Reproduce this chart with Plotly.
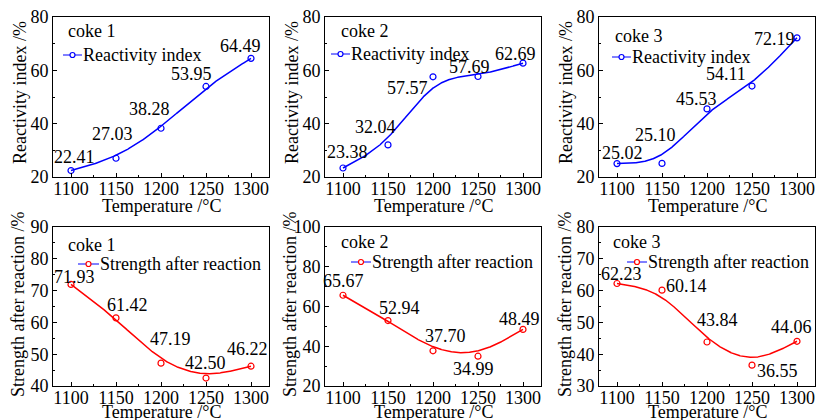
import numpy as np
import plotly.graph_objects as go
from plotly.subplots import make_subplots

# ---- data ----
temperature = [1100, 1150, 1200, 1250, 1300]
coke_names = ["coke 1", "coke 2", "coke 3"]

reactivity_coke1 = [22.41, 27.03, 38.28, 53.95, 64.49]
reactivity_coke2 = [23.38, 32.04, 57.57, 57.69, 62.69]
reactivity_coke3 = [25.02, 25.10, 45.53, 54.11, 72.19]

strength_coke1 = [71.93, 61.42, 47.19, 42.50, 46.22]
strength_coke2 = [65.67, 52.94, 37.70, 34.99, 48.49]
strength_coke3 = [62.23, 60.14, 43.84, 36.55, 44.06]

reactivity_series = [reactivity_coke1, reactivity_coke2, reactivity_coke3]
strength_series = [strength_coke1, strength_coke2, strength_coke3]

# ---- layout / style ----
W, H = 816, 420
FONT = "Liberation Serif"
FS = 18
BLUE = "#0000ff"
RED = "#ff0000"

col_px = [(53, 269), (325, 541), (599, 815)]
row_px = [(17, 177), (227, 386)]
xtitle_px = [206, 412]
ytitle_px = [(20, 292, 566), (18, 290, 565)]
ytitle_mid = [93, 305]
x_range = [1080, 1320]
top_y = dict(range=[20, 80], dtick=20)
bottom_y = [dict(range=[40, 90], dtick=10), dict(range=[20, 100], dtick=20), dict(range=[30, 80], dtick=10)]

# value-label offsets (px, right / down) for each panel
top_offsets = [
    [(3, -14), (-4, -24), (-12, -19), (-15, -12), (-11, -12)],
    [(4, -16), (-13, -18), (-26, 11), (-9, -9), (-8, -9)],
    [(5, -11), (-7, -28), (-11, -10), (-26, -12), (-23, 1)],
]
bottom_offsets = [
    [(3, -7), (11, -13), (9, -24), (-1, -15), (-4, -17)],
    [(0, -14), (11, -13), (12, -15), (-5, 13), (-4, -10)],
    [(4, -10), (24, -4), (10, -22), (25, 6), (-6, -14)],
]
# legend key positions in px: (coke-label left, coke-label y, key line x0, key line x1, key y)
top_keys = [(66, 31, 63, 82, 55), (339, 31, 331, 350, 54), (613, 36, 612, 631, 57)]
bottom_keys = [(66, 245, 78, 99, 264), (339, 242, 351, 371, 262), (611, 242, 627, 647, 262)]


def px_x(p):
    return p / W


def px_y(p):
    return 1 - p / H


def bspline(x, y, n=200):
    """Uniform cubic B-spline using the points as control points (ends reflected)."""
    x = np.asarray(x, float)
    y = np.asarray(y, float)
    qx = np.concatenate([[2 * x[0] - x[1]], x, [2 * x[-1] - x[-2]]])
    qy = np.concatenate([[2 * y[0] - y[1]], y, [2 * y[-1] - y[-2]]])
    xs, ys = [], []
    t = np.linspace(0, 1, n)
    b0 = (1 - t) ** 3 / 6
    b1 = (3 * t ** 3 - 6 * t ** 2 + 4) / 6
    b2 = (-3 * t ** 3 + 3 * t ** 2 + 3 * t + 1) / 6
    b3 = t ** 3 / 6
    for i in range(len(qx) - 3):
        xs.append(b0 * qx[i] + b1 * qx[i + 1] + b2 * qx[i + 2] + b3 * qx[i + 3])
        ys.append(b0 * qy[i] + b1 * qy[i + 1] + b2 * qy[i + 2] + b3 * qy[i + 3])
    return np.concatenate(xs), np.concatenate(ys)


fig = make_subplots(rows=2, cols=3)
text_font = dict(family=FONT, size=FS, color="black")

rows = [
    (reactivity_series, BLUE, "Reactivity index", "Reactivity index /%", top_offsets, top_keys),
    (strength_series, RED, "Strength after reaction", "Strength after reaction /%", bottom_offsets, bottom_keys),
]

for r, (series, col, item, ytitle, offsets, keys) in enumerate(rows, start=1):
    for c, values in enumerate(series, start=1):
        sx, sy = bspline(temperature, values)
        fig.add_trace(go.Scatter(x=sx, y=sy, mode="lines", line=dict(color=col, width=1.5),
                                 showlegend=False, hoverinfo="skip"), row=r, col=c)
        fig.add_trace(go.Scatter(x=temperature, y=values, mode="markers", name=item,
                                 marker=dict(symbol="circle-open", size=6, color=col,
                                             line=dict(width=1.2, color=col)),
                                 showlegend=False), row=r, col=c)
        for t, v, (dx, dy) in zip(temperature, values, offsets[c - 1]):
            fig.add_annotation(x=t, y=v, text=f"{v:.2f}", showarrow=False, xshift=dx, yshift=-dy,
                               font=text_font, row=r, col=c)

        # legend key: coke label, line segment (blue) and open circle marker
        lx, ly, kx0, kx1, ky = keys[c - 1]
        fig.add_annotation(x=px_x(lx), y=px_y(ly), xref="paper", yref="paper", text=coke_names[c - 1],
                           showarrow=False, xanchor="left", yanchor="middle", font=text_font)
        fig.add_shape(type="line", xref="paper", yref="paper", x0=px_x(kx0), x1=px_x(kx1),
                      y0=px_y(ky), y1=px_y(ky), line=dict(color=BLUE, width=1))
        kc = (kx0 + kx1) / 2
        fig.add_shape(type="circle", xref="paper", yref="paper", x0=px_x(kc - 2.5), x1=px_x(kc + 2.5),
                      y0=px_y(ky - 2.5), y1=px_y(ky + 2.5), line=dict(color=col, width=1.2),
                      fillcolor="white")
        fig.add_annotation(x=px_x(kx1 - 1), y=px_y(ky), xref="paper", yref="paper", text=item,
                           showarrow=False, xanchor="left", yanchor="middle", font=text_font)

        # axis titles
        x0, x1 = col_px[c - 1]
        fig.add_annotation(x=px_x((x0 + x1) / 2), y=px_y(xtitle_px[r - 1]), xref="paper", yref="paper",
                           text="Temperature /°C", showarrow=False, xanchor="center", yanchor="middle",
                           font=text_font)
        fig.add_annotation(x=px_x(ytitle_px[r - 1][c - 1]), y=px_y(ytitle_mid[r - 1]), xref="paper",
                           yref="paper", text=ytitle, textangle=-90, showarrow=False,
                           xanchor="center", yanchor="middle", font=text_font)

        yax = top_y if r == 1 else bottom_y[c - 1]
        axis_common = dict(showline=True, linecolor="black", linewidth=1, mirror=True,
                           ticks="inside", ticklen=4, tickcolor="black", showgrid=False, zeroline=False,
                           tickfont=text_font, automargin=False)
        fig.update_xaxes(range=x_range, tickmode="linear", tick0=1100, dtick=50, ticklabelstandoff=-5,
                         minor=dict(ticks="inside", ticklen=2, dtick=25, tick0=1100, tickcolor="black"),
                         domain=[px_x(x0), px_x(x1)],
                         **axis_common, row=r, col=c)
        fig.update_yaxes(range=yax["range"], tickmode="linear", tick0=yax["range"][0], dtick=yax["dtick"],
                         minor=dict(ticks="inside", ticklen=2, dtick=yax["dtick"] / 2, tickcolor="black"),
                         domain=[px_y(row_px[r - 1][1]), px_y(row_px[r - 1][0])],
                         **axis_common, row=r, col=c)

fig.update_layout(width=W, height=H, margin=dict(l=0, r=0, t=0, b=0),
                  paper_bgcolor="white", plot_bgcolor="white", showlegend=False)

fig.write_html("out.html")
